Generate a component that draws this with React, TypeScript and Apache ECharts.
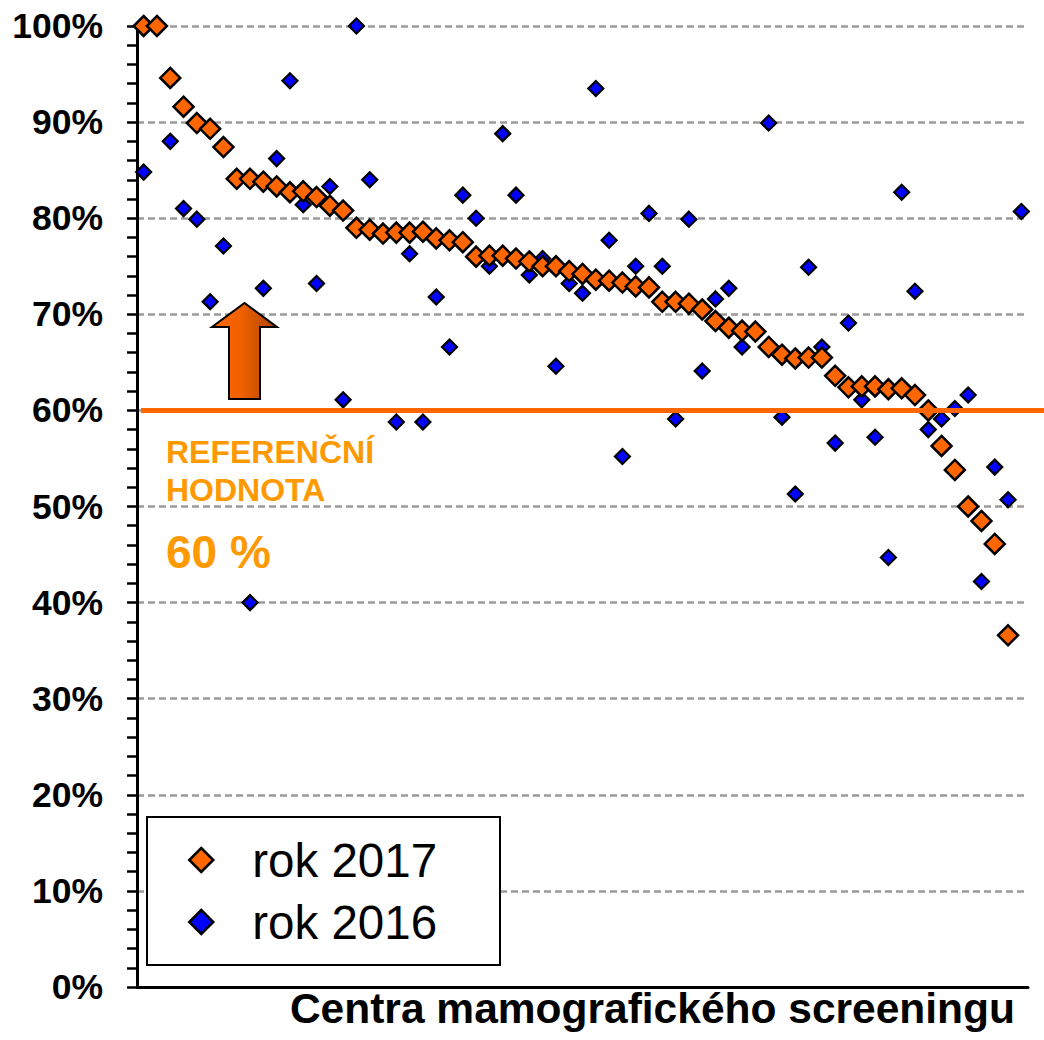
import React, { useEffect, useRef } from "react";
import * as echarts from "echarts";

// Categories: 67 screening centres (unnamed in the picture)
const centres: string[] = [
  "1","2","3","4","5","6","7","8","9","10","11","12","13","14","15","16","17","18","19","20",
  "21","22","23","24","25","26","27","28","29","30","31","32","33","34","35","36","37","38","39","40",
  "41","42","43","44","45","46","47","48","49","50","51","52","53","54","55","56","57","58","59","60",
  "61","62","63","64","65","66","67",
];

// rok 2017 (orange), sorted descending, %
const rok2017: (number | null)[] = [
  100, 100, 94.6, 91.6, 89.9, 89.3, 87.4, 84.1, 84.1, 83.8,
  83.3, 82.7, 82.8, 82.2, 81.3, 80.8, 79.0, 78.8, 78.4, 78.5,
  78.5, 78.6, 77.9, 77.7, 77.5, 76.0, 76.1, 76.1, 75.8, 75.5,
  75.0, 75.0, 74.5, 74.2, 73.6, 73.5, 73.3, 72.9, 72.8, 71.3,
  71.3, 71.1, 70.5, 69.3, 68.6, 68.3, 68.2, 66.6, 65.8, 65.4,
  65.5, 65.5, 63.6, 62.4, 62.5, 62.5, 62.2, 62.3, 61.6, 60.0,
  56.3, 53.8, 50.0, 48.5, 46.1, 36.6, null,
];

// rok 2016 (blue), %; null = not visible in the picture
const rok2016: (number | null)[] = [
  84.8, null, 88.0, 81.0, 79.9, 71.3, 77.1, null, 40.0, 72.7,
  86.2, 94.3, 81.4, 73.2, 83.3, 61.1, 100, 84.0, null, 58.8,
  76.3, 58.8, 71.8, 66.6, 82.4, 80.0, 75.0, 88.8, 82.4, 74.1,
  75.8, 64.6, 73.2, 72.2, 93.5, 77.7, 55.2, 75.0, 80.5, 75.0,
  59.1, 79.9, 64.1, 71.6, 72.7, 66.6, null, 89.9, 59.3, 51.3,
  74.9, 66.6, 56.6, 69.1, 61.1, 57.2, 44.7, 82.7, 72.4, 58.0,
  59.1, 60.2, 61.6, 42.2, 54.1, 50.7, 80.7,
];

const referenceValue = 60;
const yMin = 0;
const yMax = 100;
const yInterval = 10;

const FONT = "'Liberation Sans', Arial, sans-serif";

export default function App() {
  const ref = useRef<HTMLDivElement>(null);

  useEffect(() => {
    if (!ref.current) return;
    const chart = echarts.init(ref.current, undefined, { renderer: "svg" });

    const option: any = {
      animation: false,
      backgroundColor: "#fff",
      grid: { left: 137, right: 16, top: 26, bottom: 53, containLabel: false },
      xAxis: {
        type: "category",
        data: centres,
        boundaryGap: true,
        axisLine: { show: true, lineStyle: { color: "#000", width: 3 } },
        axisTick: { show: false },
        axisLabel: { show: false },
        splitLine: { show: false },
      },
      yAxis: {
        type: "value",
        min: yMin,
        max: yMax,
        interval: yInterval,
        axisLine: { show: true, lineStyle: { color: "#000", width: 3 } },
        axisTick: { show: true, length: 10, lineStyle: { color: "#000", width: 2.5 } },
        minorTick: { show: true, splitNumber: 5, length: 10, lineStyle: { color: "#000", width: 2.5 } },
        axisLabel: {
          formatter: "{value}%",
          fontFamily: FONT,
          fontWeight: "bold",
          fontSize: 35.5,
          color: "#000",
          margin: 34,
        },
        splitLine: {
          show: true,
          lineStyle: { color: "#9a9a9a", width: 2.5, type: [7, 4] },
        },
      },
      legend: {
        data: ["rok 2017", "rok 2016"],
        orient: "vertical",
        left: 188,
        top: 836,
        padding: 0,
        icon: "diamond",
        itemWidth: 24,
        itemHeight: 24,
        itemGap: 14,
        z: 10,
        itemStyle: { borderColor: "#000", borderWidth: 2.5, opacity: 1 },
        textStyle: {
          fontFamily: FONT,
          fontSize: 47.5,
          color: "#000",
          lineHeight: 46,
          padding: [0, 0, 0, 34],
        },
      },
      series: [
        {
          name: "rok 2017",
          type: "scatter",
          data: rok2017,
          symbol: "diamond",
          symbolSize: 20,
          z: 3,
          itemStyle: { color: "#FF6600", borderColor: "#000", borderWidth: 2.5, opacity: 1 },
        },
        {
          name: "rok 2016",
          type: "scatter",
          data: rok2016,
          symbol: "diamond",
          symbolSize: 15,
          z: 2,
          itemStyle: { color: "#0000FF", borderColor: "#000", borderWidth: 2.2, opacity: 1 },
        },
      ],
    };
    chart.setOption(option);

    const yRef = chart.convertToPixel({ yAxisIndex: 0 }, referenceValue) as number;

    chart.setOption({
      graphic: [
        {
          type: "line",
          z: 6,
          shape: { x1: 141, y1: yRef, x2: 1044, y2: yRef },
          style: { stroke: "#FF6600", lineWidth: 5 },
        },
        {
          type: "polygon",
          z: 6,
          shape: {
            points: [
              [229, 399], [229, 327], [212, 327], [244.5, 303], [277, 327], [260, 327], [260, 399],
            ],
          },
          style: {
            fill: {
              type: "linear", x: 0, y: 0, x2: 1, y2: 0,
              colorStops: [
                { offset: 0, color: "#FF6A00" },
                { offset: 0.45, color: "#F06000" },
                { offset: 1, color: "#A84400" },
              ],
            },
            stroke: "#000",
            lineWidth: 2,
          },
        },
        {
          type: "text",
          z: 6,
          x: 166,
          y: 452,
          style: {
            text: "REFERENČNÍ",
            font: `bold 32px ${FONT}`,
            fill: "#FF9900",
            verticalAlign: "middle",
          },
        },
        {
          type: "text",
          z: 6,
          x: 166,
          y: 490,
          style: {
            text: "HODNOTA",
            font: `bold 32px ${FONT}`,
            fill: "#FF9900",
            verticalAlign: "middle",
          },
        },
        {
          type: "text",
          z: 6,
          x: 166,
          y: 552,
          style: {
            text: "60 %",
            font: `bold 46px ${FONT}`,
            fill: "#FF9900",
            verticalAlign: "middle",
          },
        },
        {
          type: "rect",
          z: 5,
          shape: { x: 147, y: 817, width: 353, height: 148 },
          style: { fill: "#fff", stroke: "#000", lineWidth: 2 },
        },
        {
          type: "text",
          z: 6,
          x: 1015,
          y: 1008,
          style: {
            text: "Centra mamografického screeningu",
            font: `bold 42.5px ${FONT}`,
            fill: "#000",
            align: "right",
            verticalAlign: "middle",
          },
        },
      ],
    });

    return () => chart.dispose();
  }, []);

  return (
    <div
      ref={ref}
      style={{ position: "absolute", left: 0, top: 0, width: 1044, height: 1040 }}
    />
  );
}
